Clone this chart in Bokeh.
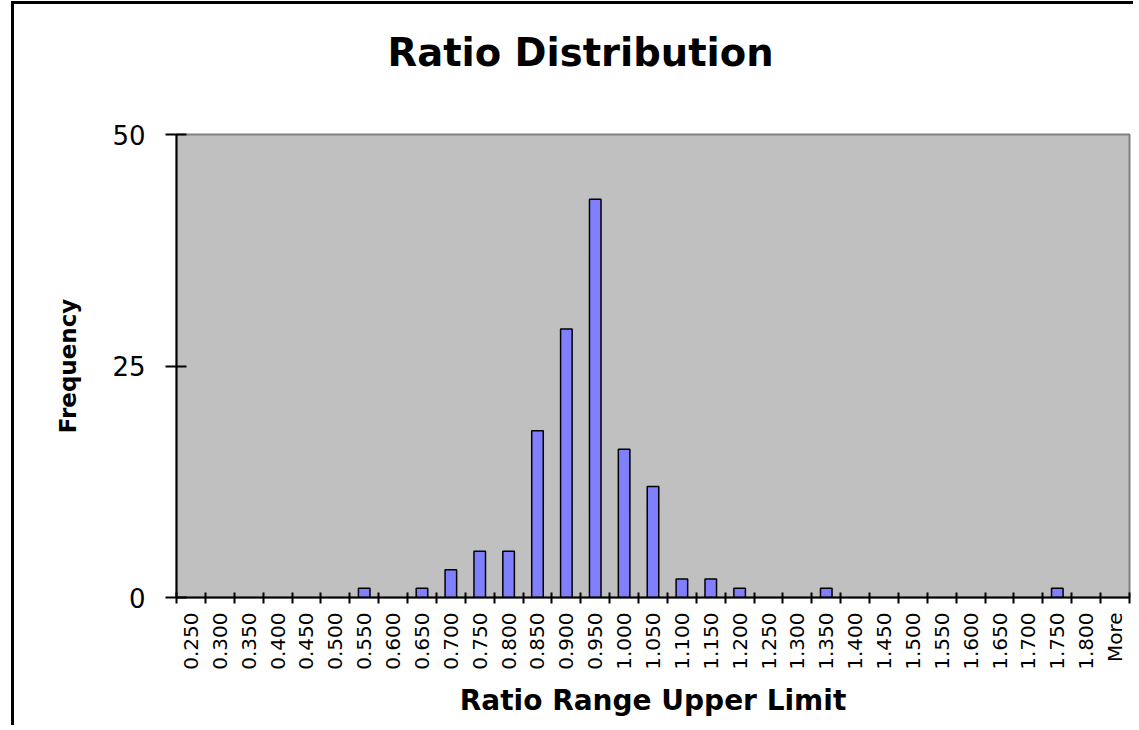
import math
from bokeh.plotting import figure
from bokeh.models import Range1d, FixedTicker, Title
from bokeh.embed import file_html
from bokeh.resources import INLINE

categories = ["0.250", "0.300", "0.350", "0.400", "0.450", "0.500", "0.550", "0.600",
              "0.650", "0.700", "0.750", "0.800", "0.850", "0.900", "0.950", "1.000",
              "1.050", "1.100", "1.150", "1.200", "1.250", "1.300", "1.350", "1.400",
              "1.450", "1.500", "1.550", "1.600", "1.650", "1.700", "1.750", "1.800", "More"]
frequency = [0, 0, 0, 0, 0, 0, 1, 0,
             1, 3, 5, 5, 18, 29, 43, 16,
             12, 2, 2, 1, 0, 0, 1, 0,
             0, 0, 0, 0, 0, 0, 1, 0, 0]
y_ticks = [0, 25, 50]
title_text = "Ratio Distribution"

FONT = "DejaVu Sans"
n = len(categories)
centers = [i + 0.5 for i in range(n)]

p = figure(width=1122, height=724, output_backend="svg", toolbar_location=None,
           x_range=Range1d(0, n), y_range=Range1d(0, 50),
           min_border_left=162, min_border_right=7, min_border_top=130, min_border_bottom=131)

p.background_fill_color = "#C0C0C0"
p.border_fill_color = "white"
p.outline_line_color = "#808080"
p.outline_line_width = 2
p.grid.visible = False

xs = [c for c, v in zip(centers, frequency) if v > 0]
tops = [v for v in frequency if v > 0]
p.vbar(x=xs, top=tops, width=0.4, bottom=0, fill_color="#8080FF",
       line_color="black", line_width=1.5)

# x axis: labels at category centres, tick marks at boundaries
xa = p.xaxis[0]
xa.ticker = FixedTicker(ticks=centers, minor_ticks=list(range(n + 1)))
xa.major_label_overrides = {c: lab for c, lab in zip(centers, categories)}
xa.major_label_orientation = math.pi / 2
xa.major_label_text_font = FONT
xa.major_label_text_font_size = "20px"
xa.major_label_text_color = "black"
xa.major_tick_line_color = None
xa.major_tick_in = 0
xa.major_tick_out = 6
xa.major_label_standoff = 9
xa.minor_tick_line_color = "black"
xa.minor_tick_line_width = 2
xa.minor_tick_in = 5
xa.minor_tick_out = 6
xa.axis_line_color = "black"
xa.axis_line_width = 2
xa.axis_label = "Ratio Range Upper Limit"
xa.axis_label_text_font = FONT
xa.axis_label_text_font_style = "bold"
xa.axis_label_text_font_size = "28px"
xa.axis_label_text_color = "black"
xa.axis_label_standoff = 11

ya = p.yaxis[0]
ya.ticker = FixedTicker(ticks=y_ticks, minor_ticks=[])
ya.major_label_text_font = FONT
ya.major_label_text_font_size = "26px"
ya.major_label_text_color = "black"
ya.major_tick_line_color = "black"
ya.major_tick_line_width = 2
ya.major_tick_in = 10
ya.major_tick_out = 11
ya.major_label_standoff = 20
ya.axis_line_color = "black"
ya.axis_line_width = 2
ya.axis_label = "Frequency"
ya.axis_label_text_font = FONT
ya.axis_label_text_font_style = "bold"
ya.axis_label_text_font_size = "23px"
ya.axis_label_text_color = "black"
ya.axis_label_standoff = 28

# spacer between frame and title, then the title itself (further from frame)
p.title.text = ""
spacer = Title(text=" ", text_font_size="1px", standoff=57)
p.add_layout(spacer, "above")
main_title = Title(text=title_text, text_font=FONT, text_font_size="38.5px",
                   text_font_style="bold", text_color="black", align="left",
                   offset=211, standoff=0)
p.add_layout(main_title, "above")

p.styles = {"border-left": "3px solid black", "border-top": "3px solid black",
            "margin-left": "11px", "margin-top": "1px"}

open("out.html", "w").write(file_html(p, INLINE))
